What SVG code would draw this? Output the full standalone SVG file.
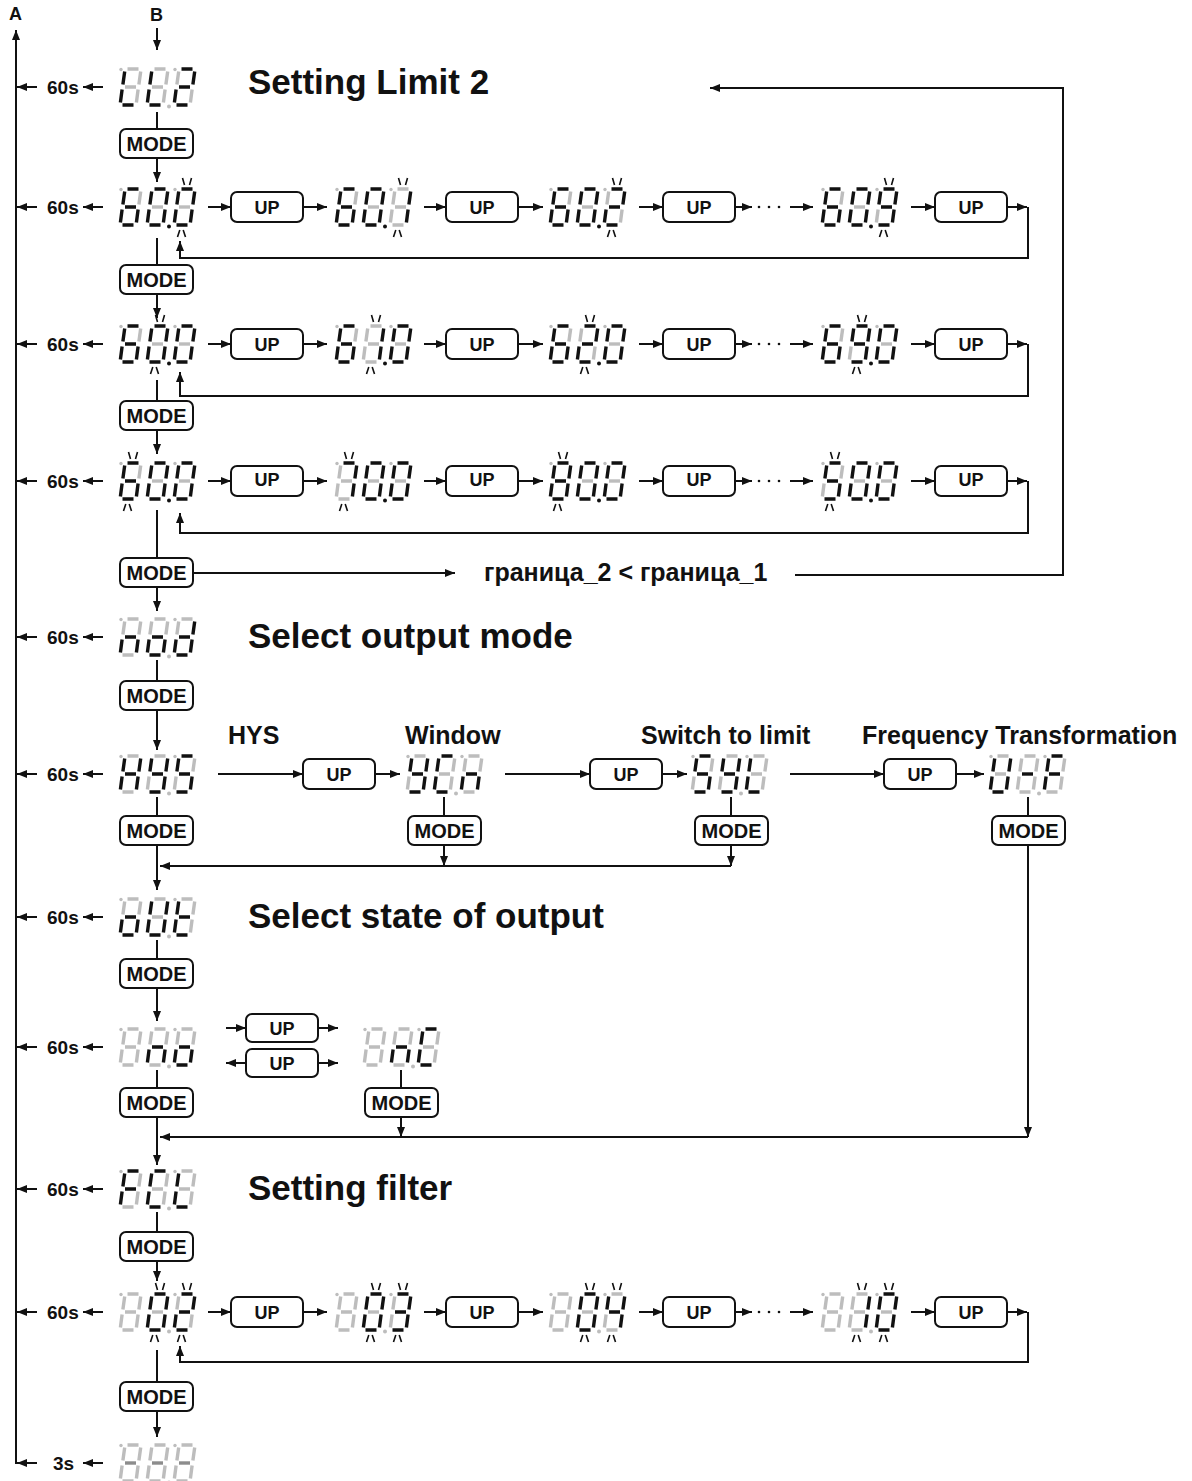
<svg xmlns="http://www.w3.org/2000/svg" width="1192" height="1481" viewBox="0 0 1192 1481">
<style>
.on{fill:none;stroke:#111;stroke-width:3.4}
.off{fill:none;stroke:#bdbdbd;stroke-width:3.4}
.mid{fill:none;stroke:#8c8c8c;stroke-width:3.4}
.ln{fill:none;stroke:#111;stroke-width:2}
.bx{fill:#fff;stroke:#111;stroke-width:2}
.bk{fill:none;stroke:#111;stroke-width:1.6}
.dg{fill:#bdbdbd}
.dk{fill:#111}
text{font-family:"Liberation Sans",Arial,sans-serif;font-weight:bold;fill:#111}
.mt{font-size:20px;text-anchor:middle}
.ut{font-size:18px;text-anchor:middle}
.tm{font-size:19px}
.ti{font-size:35px}
.lb{font-size:25px}
</style>
<defs>
<marker id="ah" viewBox="0 0 10 8" refX="10" refY="4" markerWidth="10" markerHeight="8" markerUnits="userSpaceOnUse" orient="auto"><path d="M0 0L10 4L0 8z" fill="#111"/></marker>
<g id="gX"><path class="off" d="M7.5 0H18.5M20.7 2.5L18.9 15.5M18.1 20.5L16.4 33.5M2.5 36H13.5M2.1 20.5L0.4 33.5M4.7 2.5L2.9 15.5M5 18H16"/></g>
<g id="gL"><path class="on" d="M2.5 36H13.5M2.1 20.5L0.4 33.5M4.7 2.5L2.9 15.5"/><path class="off" d="M7.5 0H18.5M20.7 2.5L18.9 15.5M18.1 20.5L16.4 33.5M5 18H16"/></g>
<g id="g2"><path class="on" d="M7.5 0H18.5M20.7 2.5L18.9 15.5M5 18H16M2.1 20.5L0.4 33.5M2.5 36H13.5"/><path class="off" d="M18.1 20.5L16.4 33.5M4.7 2.5L2.9 15.5"/></g>
<g id="g6"><path class="on" d="M7.5 0H18.5M18.1 20.5L16.4 33.5M2.5 36H13.5M2.1 20.5L0.4 33.5M4.7 2.5L2.9 15.5M5 18H16"/><path class="off" d="M20.7 2.5L18.9 15.5"/></g>
<g id="g0"><path class="on" d="M7.5 0H18.5M20.7 2.5L18.9 15.5M18.1 20.5L16.4 33.5M2.5 36H13.5M2.1 20.5L0.4 33.5M4.7 2.5L2.9 15.5"/><path class="off" d="M5 18H16"/></g>
<g id="g1"><path class="on" d="M20.7 2.5L18.9 15.5M18.1 20.5L16.4 33.5"/><path class="off" d="M7.5 0H18.5M2.5 36H13.5M2.1 20.5L0.4 33.5M4.7 2.5L2.9 15.5M5 18H16"/></g>
<g id="g9"><path class="on" d="M7.5 0H18.5M20.7 2.5L18.9 15.5M18.1 20.5L16.4 33.5M2.5 36H13.5M4.7 2.5L2.9 15.5M5 18H16"/><path class="off" d="M2.1 20.5L0.4 33.5"/></g>
<g id="g7"><path class="on" d="M7.5 0H18.5M20.7 2.5L18.9 15.5M18.1 20.5L16.4 33.5"/><path class="off" d="M2.5 36H13.5M2.1 20.5L0.4 33.5M4.7 2.5L2.9 15.5M5 18H16"/></g>
<g id="g8"><path class="on" d="M7.5 0H18.5M20.7 2.5L18.9 15.5M18.1 20.5L16.4 33.5M2.5 36H13.5M2.1 20.5L0.4 33.5M4.7 2.5L2.9 15.5M5 18H16"/></g>
<g id="g5"><path class="on" d="M7.5 0H18.5M18.1 20.5L16.4 33.5M2.5 36H13.5M4.7 2.5L2.9 15.5M5 18H16"/><path class="off" d="M20.7 2.5L18.9 15.5M2.1 20.5L0.4 33.5"/></g>
<g id="gn"><path class="on" d="M18.1 20.5L16.4 33.5M2.1 20.5L0.4 33.5M5 18H16"/><path class="off" d="M7.5 0H18.5M20.7 2.5L18.9 15.5M2.5 36H13.5M4.7 2.5L2.9 15.5"/></g>
<g id="go"><path class="on" d="M18.1 20.5L16.4 33.5M2.5 36H13.5M2.1 20.5L0.4 33.5M5 18H16"/><path class="off" d="M7.5 0H18.5M20.7 2.5L18.9 15.5M4.7 2.5L2.9 15.5"/></g>
<g id="gd"><path class="on" d="M20.7 2.5L18.9 15.5M18.1 20.5L16.4 33.5M2.5 36H13.5M2.1 20.5L0.4 33.5M5 18H16"/><path class="off" d="M7.5 0H18.5M4.7 2.5L2.9 15.5"/></g>
<g id="gH"><path class="on" d="M20.7 2.5L18.9 15.5M18.1 20.5L16.4 33.5M2.1 20.5L0.4 33.5M4.7 2.5L2.9 15.5M5 18H16"/><path class="off" d="M7.5 0H18.5M2.5 36H13.5"/></g>
<g id="gY"><path class="on" d="M20.7 2.5L18.9 15.5M18.1 20.5L16.4 33.5M2.5 36H13.5M4.7 2.5L2.9 15.5M5 18H16"/><path class="off" d="M7.5 0H18.5M2.1 20.5L0.4 33.5"/></g>
<g id="gU"><path class="on" d="M20.7 2.5L18.9 15.5M18.1 20.5L16.4 33.5M2.5 36H13.5M2.1 20.5L0.4 33.5M4.7 2.5L2.9 15.5"/><path class="off" d="M7.5 0H18.5M5 18H16"/></g>
<g id="gm"><path class="on" d="M5 18H16"/><path class="off" d="M7.5 0H18.5M20.7 2.5L18.9 15.5M18.1 20.5L16.4 33.5M2.5 36H13.5M2.1 20.5L0.4 33.5M4.7 2.5L2.9 15.5"/></g>
<g id="gq"><path class="mid" d="M5 18H16"/><path class="off" d="M7.5 0H18.5M20.7 2.5L18.9 15.5M18.1 20.5L16.4 33.5M2.5 36H13.5M2.1 20.5L0.4 33.5M4.7 2.5L2.9 15.5"/></g>
<g id="gF"><path class="on" d="M7.5 0H18.5M2.1 20.5L0.4 33.5M4.7 2.5L2.9 15.5M5 18H16"/><path class="off" d="M20.7 2.5L18.9 15.5M18.1 20.5L16.4 33.5M2.5 36H13.5"/></g>
<g id="gC"><path class="on" d="M7.5 0H18.5M2.5 36H13.5M2.1 20.5L0.4 33.5M4.7 2.5L2.9 15.5"/><path class="off" d="M20.7 2.5L18.9 15.5M18.1 20.5L16.4 33.5M5 18H16"/></g>
<g id="g3"><path class="on" d="M7.5 0H18.5M20.7 2.5L18.9 15.5M18.1 20.5L16.4 33.5M2.5 36H13.5M5 18H16"/><path class="off" d="M2.1 20.5L0.4 33.5M4.7 2.5L2.9 15.5"/></g>
<g id="g4"><path class="on" d="M20.7 2.5L18.9 15.5M18.1 20.5L16.4 33.5M4.7 2.5L2.9 15.5M5 18H16"/><path class="off" d="M7.5 0H18.5M2.5 36H13.5M2.1 20.5L0.4 33.5"/></g>
<g id="gt"><path class="on" d="M2.5 36H13.5M2.1 20.5L0.4 33.5M4.7 2.5L2.9 15.5M5 18H16"/><path class="off" d="M7.5 0H18.5M20.7 2.5L18.9 15.5M18.1 20.5L16.4 33.5"/></g>
<g id="dA"><circle class="dg" cx="3" cy="0.5" r="1.7"/><circle class="dg" cx="57" cy="0.5" r="1.7"/><circle class="dk" cx="51" cy="37.5" r="2"/></g>
<g id="dB"><circle class="dg" cx="3" cy="0.5" r="1.7"/><circle class="dg" cx="57" cy="0.5" r="1.7"/><circle class="dg" cx="51" cy="37.5" r="2"/></g>
<g id="bl"><path class="bk" d="M8.5 -11L10.5 -4M17.5 -11L15.5 -4M3.5 48L5.8 41M9.2 41L11.5 48"/></g>
</defs>
<rect width="1192" height="1481" fill="#fff"/>

<g id="connectors">
<path class="ln" marker-end="url(#ah)" d="M16 1464V30"/>
<path class="ln" marker-end="url(#ah)" d="M157 28V50"/>
<path class="ln" d="M157 112V129"/>
<path class="ln" marker-end="url(#ah)" d="M157 158V182"/>
<path class="ln" d="M157 238V265"/>
<path class="ln" marker-end="url(#ah)" d="M157 294V318"/>
<path class="ln" d="M157 380V401"/>
<path class="ln" marker-end="url(#ah)" d="M157 430V454"/>
<path class="ln" d="M157 510V558"/>
<path class="ln" marker-end="url(#ah)" d="M157 587V611"/>
<path class="ln" d="M157 660V681"/>
<path class="ln" marker-end="url(#ah)" d="M157 710V750"/>
<path class="ln" d="M157 797V816"/>
<path class="ln" marker-end="url(#ah)" d="M157 845V890"/>
<path class="ln" d="M157 940V959"/>
<path class="ln" marker-end="url(#ah)" d="M157 988V1021"/>
<path class="ln" d="M157 1070V1088"/>
<path class="ln" marker-end="url(#ah)" d="M157 1117V1165"/>
<path class="ln" d="M157 1212V1232"/>
<path class="ln" marker-end="url(#ah)" d="M157 1261V1281"/>
<path class="ln" d="M157 1350V1382"/>
<path class="ln" marker-end="url(#ah)" d="M157 1411V1437"/>
<path class="ln" marker-end="url(#ah)" d="M37 87H17"/><path class="ln" marker-end="url(#ah)" d="M103 87H83"/>
<path class="ln" marker-end="url(#ah)" d="M37 207H17"/><path class="ln" marker-end="url(#ah)" d="M103 207H83"/>
<path class="ln" marker-end="url(#ah)" d="M37 344H17"/><path class="ln" marker-end="url(#ah)" d="M103 344H83"/>
<path class="ln" marker-end="url(#ah)" d="M37 481H17"/><path class="ln" marker-end="url(#ah)" d="M103 481H83"/>
<path class="ln" marker-end="url(#ah)" d="M37 637H17"/><path class="ln" marker-end="url(#ah)" d="M103 637H83"/>
<path class="ln" marker-end="url(#ah)" d="M37 774H17"/><path class="ln" marker-end="url(#ah)" d="M103 774H83"/>
<path class="ln" marker-end="url(#ah)" d="M37 917H17"/><path class="ln" marker-end="url(#ah)" d="M103 917H83"/>
<path class="ln" marker-end="url(#ah)" d="M37 1047H17"/><path class="ln" marker-end="url(#ah)" d="M103 1047H83"/>
<path class="ln" marker-end="url(#ah)" d="M37 1189H17"/><path class="ln" marker-end="url(#ah)" d="M103 1189H83"/>
<path class="ln" marker-end="url(#ah)" d="M37 1312H17"/><path class="ln" marker-end="url(#ah)" d="M103 1312H83"/>
<path class="ln" marker-end="url(#ah)" d="M37 1463H17"/><path class="ln" marker-end="url(#ah)" d="M103 1463H83"/>
<path class="ln" marker-end="url(#ah)" d="M208 207H231"/><path class="ln" marker-end="url(#ah)" d="M303 207H327"/>
<path class="ln" marker-end="url(#ah)" d="M424 207H446"/><path class="ln" marker-end="url(#ah)" d="M518 207H543"/>
<path class="ln" marker-end="url(#ah)" d="M639 207H663"/><path class="ln" marker-end="url(#ah)" d="M735 207H752"/>
<path class="ln" marker-end="url(#ah)" d="M790 207H813"/><path class="ln" marker-end="url(#ah)" d="M911 207H935"/>
<path class="ln" marker-end="url(#ah)" d="M1007 207H1027"/>
<path class="ln" marker-end="url(#ah)" d="M1028 207V258H180V241"/>
<circle class="dk" cx="759" cy="207" r="1.3"/><circle class="dk" cx="769" cy="207" r="1.3"/><circle class="dk" cx="779" cy="207" r="1.3"/>
<path class="ln" marker-end="url(#ah)" d="M208 344H231"/><path class="ln" marker-end="url(#ah)" d="M303 344H327"/>
<path class="ln" marker-end="url(#ah)" d="M424 344H446"/><path class="ln" marker-end="url(#ah)" d="M518 344H543"/>
<path class="ln" marker-end="url(#ah)" d="M639 344H663"/><path class="ln" marker-end="url(#ah)" d="M735 344H752"/>
<path class="ln" marker-end="url(#ah)" d="M790 344H813"/><path class="ln" marker-end="url(#ah)" d="M911 344H935"/>
<path class="ln" marker-end="url(#ah)" d="M1007 344H1027"/>
<path class="ln" marker-end="url(#ah)" d="M1028 344V396H180V372"/>
<circle class="dk" cx="759" cy="344" r="1.3"/><circle class="dk" cx="769" cy="344" r="1.3"/><circle class="dk" cx="779" cy="344" r="1.3"/>
<path class="ln" marker-end="url(#ah)" d="M208 481H231"/><path class="ln" marker-end="url(#ah)" d="M303 481H327"/>
<path class="ln" marker-end="url(#ah)" d="M424 481H446"/><path class="ln" marker-end="url(#ah)" d="M518 481H543"/>
<path class="ln" marker-end="url(#ah)" d="M639 481H663"/><path class="ln" marker-end="url(#ah)" d="M735 481H752"/>
<path class="ln" marker-end="url(#ah)" d="M790 481H813"/><path class="ln" marker-end="url(#ah)" d="M911 481H935"/>
<path class="ln" marker-end="url(#ah)" d="M1007 481H1027"/>
<path class="ln" marker-end="url(#ah)" d="M1028 481V533H180V513"/>
<circle class="dk" cx="759" cy="481" r="1.3"/><circle class="dk" cx="769" cy="481" r="1.3"/><circle class="dk" cx="779" cy="481" r="1.3"/>
<path class="ln" marker-end="url(#ah)" d="M193 573H455"/>
<path class="ln" marker-end="url(#ah)" d="M795 575H1063V88H710"/>
<path class="ln" marker-end="url(#ah)" d="M218 774H303"/><path class="ln" marker-end="url(#ah)" d="M375 774H400"/>
<path class="ln" marker-end="url(#ah)" d="M505 774H590"/><path class="ln" marker-end="url(#ah)" d="M662 774H687"/>
<path class="ln" marker-end="url(#ah)" d="M790 774H884"/><path class="ln" marker-end="url(#ah)" d="M956 774H984"/>
<path class="ln" d="M444 797V816M731 797V816M1028 797V816"/>
<path class="ln" marker-end="url(#ah)" d="M444 845V866"/>
<path class="ln" marker-end="url(#ah)" d="M731 845V866"/>
<path class="ln" marker-end="url(#ah)" d="M731 866H160"/>
<path class="ln" marker-end="url(#ah)" d="M1028 845V1137"/>
<path class="ln" marker-end="url(#ah)" d="M1028 1137H160"/>
<path class="ln" marker-end="url(#ah)" d="M226 1028H246"/><path class="ln" marker-end="url(#ah)" d="M318 1028H338"/>
<path class="ln" marker-end="url(#ah)" d="M246 1063H226"/><path class="ln" marker-end="url(#ah)" d="M318 1063H338"/>
<path class="ln" d="M401 1070V1088"/>
<path class="ln" marker-end="url(#ah)" d="M401 1117V1137"/>
<path class="ln" marker-end="url(#ah)" d="M208 1312H231"/><path class="ln" marker-end="url(#ah)" d="M303 1312H327"/>
<path class="ln" marker-end="url(#ah)" d="M424 1312H446"/><path class="ln" marker-end="url(#ah)" d="M518 1312H543"/>
<path class="ln" marker-end="url(#ah)" d="M639 1312H663"/><path class="ln" marker-end="url(#ah)" d="M735 1312H752"/>
<path class="ln" marker-end="url(#ah)" d="M790 1312H813"/><path class="ln" marker-end="url(#ah)" d="M911 1312H935"/>
<path class="ln" marker-end="url(#ah)" d="M1007 1312H1027"/>
<path class="ln" marker-end="url(#ah)" d="M1028 1312V1362H180V1346"/>
<circle class="dk" cx="759" cy="1312" r="1.3"/><circle class="dk" cx="769" cy="1312" r="1.3"/><circle class="dk" cx="779" cy="1312" r="1.3"/>
</g>

<g id="labels">
<text x="9" y="20" style="font-size:18px">A</text>
<text x="150" y="21" style="font-size:18px">B</text>
<text class="tm" x="47" y="94">60s</text>
<text class="tm" x="47" y="214">60s</text>
<text class="tm" x="47" y="351">60s</text>
<text class="tm" x="47" y="488">60s</text>
<text class="tm" x="47" y="644">60s</text>
<text class="tm" x="47" y="781">60s</text>
<text class="tm" x="47" y="924">60s</text>
<text class="tm" x="47" y="1054">60s</text>
<text class="tm" x="47" y="1196">60s</text>
<text class="tm" x="47" y="1319">60s</text>
<text class="tm" x="53" y="1470">3s</text>
<text class="ti" x="248" y="94">Setting Limit 2</text>
<text class="ti" x="248" y="648">Select output mode</text>
<text class="ti" x="248" y="928">Select state of output</text>
<text class="ti" x="248" y="1200">Setting filter</text>
<text class="lb" x="228" y="744">HYS</text>
<text class="lb" x="405" y="744">Window</text>
<text class="lb" x="641" y="744">Switch to limit</text>
<text class="lb" x="862" y="744">Frequency Transformation</text>
<text x="484" y="581" style="font-size:25px">граница_2 &lt; граница_1</text>
</g>

<g id="disp_L2" transform="translate(118,69)"><use href="#dB"/><use href="#gL" x="2"/><use href="#gL" x="29"/><use href="#g2" x="56"/></g>
<g id="disp_r1_600" transform="translate(118,189)"><use href="#dA"/><use href="#g6" x="2"/><use href="#g0" x="29"/><use href="#g0" x="56"/><use href="#bl" x="56"/></g>
<g id="disp_r1_601" transform="translate(334,189)"><use href="#dA"/><use href="#g6" x="2"/><use href="#g0" x="29"/><use href="#g1" x="56"/><use href="#bl" x="56"/></g>
<g id="disp_r1_602" transform="translate(548,189)"><use href="#dA"/><use href="#g6" x="2"/><use href="#g0" x="29"/><use href="#g2" x="56"/><use href="#bl" x="56"/></g>
<g id="disp_r1_609" transform="translate(820,189)"><use href="#dA"/><use href="#g6" x="2"/><use href="#g0" x="29"/><use href="#g9" x="56"/><use href="#bl" x="56"/></g>
<g id="disp_r2_600" transform="translate(118,326)"><use href="#dA"/><use href="#g6" x="2"/><use href="#g0" x="29"/><use href="#g0" x="56"/><use href="#bl" x="29"/></g>
<g id="disp_r2_610" transform="translate(334,326)"><use href="#dA"/><use href="#g6" x="2"/><use href="#g1" x="29"/><use href="#g0" x="56"/><use href="#bl" x="29"/></g>
<g id="disp_r2_620" transform="translate(548,326)"><use href="#dA"/><use href="#g6" x="2"/><use href="#g2" x="29"/><use href="#g0" x="56"/><use href="#bl" x="29"/></g>
<g id="disp_r2_690" transform="translate(820,326)"><use href="#dA"/><use href="#g6" x="2"/><use href="#g9" x="29"/><use href="#g0" x="56"/><use href="#bl" x="29"/></g>
<g id="disp_r3_600" transform="translate(118,463)"><use href="#dA"/><use href="#g6" x="2"/><use href="#g0" x="29"/><use href="#g0" x="56"/><use href="#bl" x="2"/></g>
<g id="disp_r3_700" transform="translate(334,463)"><use href="#dA"/><use href="#g7" x="2"/><use href="#g0" x="29"/><use href="#g0" x="56"/><use href="#bl" x="2"/></g>
<g id="disp_r3_800" transform="translate(548,463)"><use href="#dA"/><use href="#g8" x="2"/><use href="#g0" x="29"/><use href="#g0" x="56"/><use href="#bl" x="2"/></g>
<g id="disp_r3_500" transform="translate(820,463)"><use href="#dA"/><use href="#g5" x="2"/><use href="#g0" x="29"/><use href="#g0" x="56"/><use href="#bl" x="2"/></g>
<g id="disp_nod" transform="translate(118,619)"><use href="#dB"/><use href="#gn" x="2"/><use href="#go" x="29"/><use href="#gd" x="56"/></g>
<g id="disp_hys" transform="translate(118,756)"><use href="#dB"/><use href="#gH" x="2"/><use href="#gY" x="29"/><use href="#g5" x="56"/></g>
<g id="disp_window" transform="translate(405,756)"><use href="#dB"/><use href="#gY" x="2"/><use href="#gC" x="29"/><use href="#gn" x="56"/></g>
<g id="disp_switch" transform="translate(690,756)"><use href="#dB"/><use href="#g5" x="2"/><use href="#gY" x="29"/><use href="#gL" x="56"/></g>
<g id="disp_freq" transform="translate(988,756)"><use href="#dB"/><use href="#gU" x="2"/><use href="#gm" x="29"/><use href="#gF" x="56"/></g>
<g id="disp_out" transform="translate(118,899)"><use href="#dB"/><use href="#go" x="2"/><use href="#gU" x="29"/><use href="#gt" x="56"/></g>
<g id="disp_no" transform="translate(118,1029)"><use href="#dB"/><use href="#gX" x="2"/><use href="#gn" x="29"/><use href="#go" x="56"/></g>
<g id="disp_nc" transform="translate(362,1029)"><use href="#dB"/><use href="#gX" x="2"/><use href="#gn" x="29"/><use href="#gC" x="56"/></g>
<g id="disp_flt" transform="translate(118,1171)"><use href="#dB"/><use href="#gF" x="2"/><use href="#gC" x="29"/><use href="#gL" x="56"/></g>
<g id="disp_f02" transform="translate(118,1294)"><use href="#dB"/><use href="#gX" x="2"/><use href="#g0" x="29"/><use href="#g2" x="56"/><use href="#bl" x="29"/><use href="#bl" x="56"/></g>
<g id="disp_f03" transform="translate(334,1294)"><use href="#dB"/><use href="#gX" x="2"/><use href="#g0" x="29"/><use href="#g3" x="56"/><use href="#bl" x="29"/><use href="#bl" x="56"/></g>
<g id="disp_f04" transform="translate(548,1294)"><use href="#dB"/><use href="#gX" x="2"/><use href="#g0" x="29"/><use href="#g4" x="56"/><use href="#bl" x="29"/><use href="#bl" x="56"/></g>
<g id="disp_f10" transform="translate(820,1294)"><use href="#dB"/><use href="#gX" x="2"/><use href="#g1" x="29"/><use href="#g0" x="56"/><use href="#bl" x="29"/><use href="#bl" x="56"/></g>
<g id="disp_dash" transform="translate(118,1445)"><use href="#dB"/><use href="#gq" x="2"/><use href="#gq" x="29"/><use href="#gq" x="56"/></g>

<g id="mode1"><rect class="bx" x="120" y="129" width="73" height="29" rx="6"/><text class="mt" x="156.5" y="151">MODE</text></g>
<g id="mode2"><rect class="bx" x="120" y="265" width="73" height="29" rx="6"/><text class="mt" x="156.5" y="287">MODE</text></g>
<g id="mode3"><rect class="bx" x="120" y="401" width="73" height="29" rx="6"/><text class="mt" x="156.5" y="423">MODE</text></g>
<g id="mode4"><rect class="bx" x="120" y="558" width="73" height="29" rx="6"/><text class="mt" x="156.5" y="580">MODE</text></g>
<g id="mode5"><rect class="bx" x="120" y="681" width="73" height="29" rx="6"/><text class="mt" x="156.5" y="703">MODE</text></g>
<g id="mode6"><rect class="bx" x="120" y="816" width="73" height="29" rx="6"/><text class="mt" x="156.5" y="838">MODE</text></g>
<g id="mode_window"><rect class="bx" x="408" y="816" width="73" height="29" rx="6"/><text class="mt" x="444.5" y="838">MODE</text></g>
<g id="mode_switch"><rect class="bx" x="695" y="816" width="73" height="29" rx="6"/><text class="mt" x="731.5" y="838">MODE</text></g>
<g id="mode_freq"><rect class="bx" x="992" y="816" width="73" height="29" rx="6"/><text class="mt" x="1028.5" y="838">MODE</text></g>
<g id="mode7"><rect class="bx" x="120" y="959" width="73" height="29" rx="6"/><text class="mt" x="156.5" y="981">MODE</text></g>
<g id="mode8"><rect class="bx" x="120" y="1088" width="73" height="29" rx="6"/><text class="mt" x="156.5" y="1110">MODE</text></g>
<g id="mode_nc"><rect class="bx" x="365" y="1088" width="73" height="29" rx="6"/><text class="mt" x="401.5" y="1110">MODE</text></g>
<g id="mode9"><rect class="bx" x="120" y="1232" width="73" height="29" rx="6"/><text class="mt" x="156.5" y="1254">MODE</text></g>
<g id="mode10"><rect class="bx" x="120" y="1382" width="73" height="29" rx="6"/><text class="mt" x="156.5" y="1404">MODE</text></g>

<g id="up_r1a"><rect class="bx" x="231" y="192" width="72" height="30" rx="6"/><text class="ut" x="267" y="214">UP</text></g>
<g id="up_r1b"><rect class="bx" x="446" y="192" width="72" height="30" rx="6"/><text class="ut" x="482" y="214">UP</text></g>
<g id="up_r1c"><rect class="bx" x="663" y="192" width="72" height="30" rx="6"/><text class="ut" x="699" y="214">UP</text></g>
<g id="up_r1d"><rect class="bx" x="935" y="192" width="72" height="30" rx="6"/><text class="ut" x="971" y="214">UP</text></g>
<g id="up_r2a"><rect class="bx" x="231" y="329" width="72" height="30" rx="6"/><text class="ut" x="267" y="351">UP</text></g>
<g id="up_r2b"><rect class="bx" x="446" y="329" width="72" height="30" rx="6"/><text class="ut" x="482" y="351">UP</text></g>
<g id="up_r2c"><rect class="bx" x="663" y="329" width="72" height="30" rx="6"/><text class="ut" x="699" y="351">UP</text></g>
<g id="up_r2d"><rect class="bx" x="935" y="329" width="72" height="30" rx="6"/><text class="ut" x="971" y="351">UP</text></g>
<g id="up_r3a"><rect class="bx" x="231" y="466" width="72" height="30" rx="6"/><text class="ut" x="267" y="486">UP</text></g>
<g id="up_r3b"><rect class="bx" x="446" y="466" width="72" height="30" rx="6"/><text class="ut" x="482" y="486">UP</text></g>
<g id="up_r3c"><rect class="bx" x="663" y="466" width="72" height="30" rx="6"/><text class="ut" x="699" y="486">UP</text></g>
<g id="up_r3d"><rect class="bx" x="935" y="466" width="72" height="30" rx="6"/><text class="ut" x="971" y="486">UP</text></g>
<g id="up_hys"><rect class="bx" x="303" y="759" width="72" height="30" rx="6"/><text class="ut" x="339" y="781">UP</text></g>
<g id="up_win"><rect class="bx" x="590" y="759" width="72" height="30" rx="6"/><text class="ut" x="626" y="781">UP</text></g>
<g id="up_sw"><rect class="bx" x="884" y="759" width="72" height="30" rx="6"/><text class="ut" x="920" y="781">UP</text></g>
<g id="up_st1"><rect class="bx" x="246" y="1014" width="72" height="28" rx="6"/><text class="ut" x="282" y="1035">UP</text></g>
<g id="up_st2"><rect class="bx" x="246" y="1049" width="72" height="28" rx="6"/><text class="ut" x="282" y="1070">UP</text></g>
<g id="up_fa"><rect class="bx" x="231" y="1297" width="72" height="30" rx="6"/><text class="ut" x="267" y="1319">UP</text></g>
<g id="up_fb"><rect class="bx" x="446" y="1297" width="72" height="30" rx="6"/><text class="ut" x="482" y="1319">UP</text></g>
<g id="up_fc"><rect class="bx" x="663" y="1297" width="72" height="30" rx="6"/><text class="ut" x="699" y="1319">UP</text></g>
<g id="up_fd"><rect class="bx" x="935" y="1297" width="72" height="30" rx="6"/><text class="ut" x="971" y="1319">UP</text></g>
</svg>
